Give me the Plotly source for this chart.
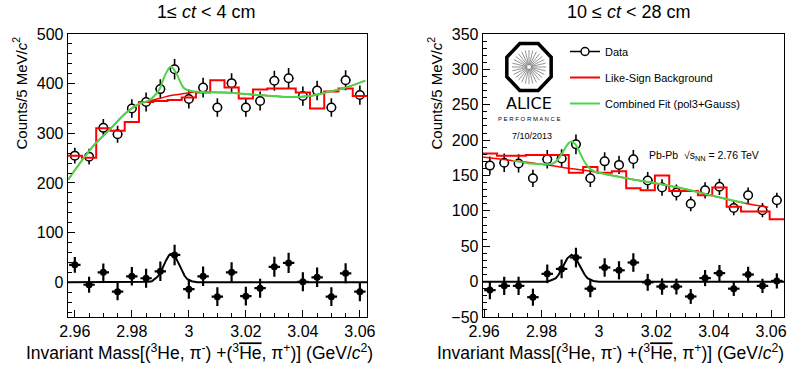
import math
import plotly.graph_objects as go

W, H = 787, 367

# ---------------- data ----------------
bin_width = 0.005

# left panel: 1 <= ct < 4 cm
mass_left = [2.960, 2.965, 2.970, 2.975, 2.980, 2.985, 2.990, 2.995, 3.000, 3.005,
             3.010, 3.015, 3.020, 3.025, 3.030, 3.035, 3.040, 3.045, 3.050, 3.055, 3.060]
data_left = [255, 253, 311, 298, 350, 363, 389, 429, 369, 392,
             352, 401, 352, 365, 406, 411, 375, 386, 352, 407, 377]
bkg_hist_left = [255, 251, 310, 305, 323, 363, 365, 367, 372, 382,
                 407, 392, 370, 388, 390, 390, 382, 350, 384, 390, 375]
sub_left = [35, -5, 20, -19, 12, 8, 22, 55, -14, 12,
            -29, 20, -28, -12, 31, 39, 1, 10, -29, 18, -19]

fit_x_left = [2.9577, 2.9664, 2.9723, 2.9781, 2.9828, 2.986, 2.9896, 2.9915, 2.9936,
              2.9955, 2.9972, 2.9985, 3.002, 3.0128, 3.0246, 3.0362, 3.0422, 3.048, 3.055, 3.0619]
fit_y_left = [207, 274, 308, 342, 360, 366, 388, 415, 434,
              422, 401, 390, 384, 382, 377, 373, 375, 382, 392, 406]
bkgfit_x_left = [2.9577, 2.9664, 2.9723, 2.9781, 2.9828, 2.9896, 2.9936, 2.9985, 3.002,
                 3.0128, 3.0246, 3.0362, 3.0422, 3.048, 3.055, 3.0619]
bkgfit_y_left = [207, 274, 308, 342, 360, 370, 376, 380, 383,
                 382, 377, 373, 375, 382, 392, 406]
gaus_x_left = [2.9575, 2.984, 2.986, 2.987, 2.988, 2.989, 2.990, 2.991, 2.992, 2.993, 2.9937,
               2.9945, 2.9955, 2.9965, 2.9975, 2.9985, 2.9995, 3.001, 3.003, 3.0625]
gaus_y_left = [0, 0, 1, 2, 6, 11, 19, 33, 44, 54, 57,
               55, 48, 37, 24, 13, 6, 2, 0, 0]

# right panel: 10 <= ct < 28 cm
mass_right = [2.962, 2.967, 2.972, 2.977, 2.982, 2.987, 2.992, 2.997, 3.002, 3.007,
              3.012, 3.017, 3.022, 3.027, 3.032, 3.037, 3.042, 3.047, 3.052, 3.057, 3.062]
data_right = [164, 168, 167, 146, 173, 174, 194, 146, 170, 165,
              173, 143, 133, 126, 110, 129, 134, 104, 122, 101, 115]
bkg_hist_right = [181, 178, 178, 179, 179, 179, 154, 162, 154, 156,
                  132, 129, 150, 128, 128, 122, 133, 106, 99, 99, 88]
sub_right = [-12, -6, -6, -22, 11, 18, 34, -10, 20, 16,
             27, -1, -7, -7, -21, 5, 12, -10, 10, -6, 1]

fit_x_right = [2.970, 2.976, 2.981, 2.984, 2.986, 2.988, 2.9895, 2.9905, 2.9918, 2.9935,
               2.995, 2.997, 2.999, 3.002, 3.011, 3.020, 3.030, 3.040, 3.051]
fit_y_right = [171, 167, 166, 167, 174, 187, 196, 198, 194, 181,
               169, 159, 155, 152, 145, 139, 131, 121, 111]
bkgfit_x_right = [2.9595, 2.970, 2.980, 2.990, 3.000, 3.011, 3.017, 3.030, 3.040, 3.047, 3.059]
bkgfit_y_right = [176, 171, 166, 160, 154, 145, 141, 131, 121, 114, 105]
gaus_x_right = [2.9595, 2.982, 2.984, 2.985, 2.986, 2.987, 2.988, 2.989, 2.9905, 2.992,
                2.993, 2.994, 2.995, 2.996, 2.997, 2.998, 3.000, 3.0645]
gaus_y_right = [0, 0, 3, 5, 10, 17, 25, 33, 38, 33,
                25, 17, 10, 5, 3, 1, 0, 0]

x_tickvals = [2.96, 2.98, 3.00, 3.02, 3.04, 3.06]
x_ticktext = ["2.96", "2.98", "3", "3.02", "3.04", "3.06"]
y_tickvals_left = [0, 100, 200, 300, 400, 500]
y_tickvals_right = [-50, 0, 50, 100, 150, 200, 250, 300, 350]

titles = ["1\u2264 <i>ct</i> < 4 cm", "10 \u2264 <i>ct</i> < 28 cm"]
legend_names = ["Data", "Like-Sign Background", "Combined Fit (pol3+Gauss)"]

# ---------------- styling ----------------
FONT = "Liberation Sans, Arial, Helvetica, sans-serif"
RED = "#ff0000"
GREEN = "#4cd44c"


def fx(p):
    return p / W


def fy(p):
    return 1 - p / H


def sqrt_err(vals):
    return [math.sqrt(abs(v)) if v != 0 else 1 for v in vals]


fig = go.Figure()


def add_panel(xa, ya, centers, data, hist, sub, fx_, fy_, bx_, by_, gx_, gy_, err_ref):
    # data points (open circles)
    fig.add_trace(go.Scatter(
        x=centers, y=data, mode="markers", xaxis=xa, yaxis=ya, showlegend=False,
        marker=dict(symbol="circle", size=8.5, color="white", line=dict(color="black", width=1.5)),
        error_y=dict(type="data", array=sqrt_err(data), color="black", thickness=1.6, width=0),
        error_x=dict(type="constant", value=0.0017, color="black", thickness=1.6, width=0),
    ))
    # like-sign background histogram
    edges = [c - bin_width / 2 for c in centers] + [centers[-1] + bin_width / 2]
    fig.add_trace(go.Scatter(
        x=edges, y=list(hist) + [hist[-1]], mode="lines", line_shape="hv",
        line=dict(color=RED, width=2), xaxis=xa, yaxis=ya, showlegend=False,
    ))
    # background component of fit
    fig.add_trace(go.Scatter(
        x=bx_, y=by_, mode="lines", line_shape="spline",
        line=dict(color=RED, width=1.5), xaxis=xa, yaxis=ya, showlegend=False,
    ))
    # combined fit
    fig.add_trace(go.Scatter(
        x=fx_, y=fy_, mode="lines", line_shape="spline",
        line=dict(color=GREEN, width=2), xaxis=xa, yaxis=ya, showlegend=False,
    ))
    # subtracted gaussian
    fig.add_trace(go.Scatter(
        x=gx_, y=gy_, mode="lines",
        line=dict(color="black", width=2), xaxis=xa, yaxis=ya, showlegend=False,
    ))
    # subtracted points
    fig.add_trace(go.Scatter(
        x=centers, y=sub, mode="markers", xaxis=xa, yaxis=ya, showlegend=False,
        marker=dict(symbol="circle", size=7, color="black"),
        error_y=dict(type="data", array=sqrt_err(err_ref), color="black", thickness=2.2, width=0),
        error_x=dict(type="constant", value=0.002, color="black", thickness=2.2, width=0),
    ))


add_panel("x", "y", mass_left, data_left, bkg_hist_left, sub_left,
          fit_x_left, fit_y_left, bkgfit_x_left, bkgfit_y_left, gaus_x_left, gaus_y_left, data_left)
add_panel("x2", "y2", mass_right, data_right, bkg_hist_right, sub_right,
          fit_x_right, fit_y_right, bkgfit_x_right, bkgfit_y_right, gaus_x_right, gaus_y_right, data_right)

# legend-only entries
fig.add_trace(go.Scatter(
    x=[None], y=[None], mode="lines+markers", name=legend_names[0], legendgroup="a",
    marker=dict(symbol="circle", size=8, color="white", line=dict(color="black", width=1.5)),
    line=dict(color="black", width=1.5), xaxis="x2", yaxis="y2"))
fig.add_trace(go.Scatter(
    x=[None], y=[None], mode="lines", name=legend_names[1], legendgroup="b",
    line=dict(color=RED, width=2), xaxis="x2", yaxis="y2"))
fig.add_trace(go.Scatter(
    x=[None], y=[None], mode="lines", name=legend_names[2], legendgroup="c",
    line=dict(color=GREEN, width=2), xaxis="x2", yaxis="y2"))

TOP, BOT = 34, 317
common_x = dict(
    showline=True, linecolor="black", linewidth=1, mirror=True, showgrid=False, zeroline=False,
    ticks="inside", ticklen=7, tickwidth=1, tickcolor="black",
    tickvals=x_tickvals, ticktext=x_ticktext,
    minor=dict(ticks="inside", ticklen=4, tickwidth=1, tickcolor="black", dtick=0.005, tick0=2.96),
    tickfont=dict(family=FONT, size=16, color="black"), automargin=False,
)
common_y = dict(
    showline=True, linecolor="black", linewidth=1, mirror=True, showgrid=False, zeroline=False,
    ticks="inside", ticklen=7, tickwidth=1, tickcolor="black",
    tickfont=dict(family=FONT, size=16, color="black"), automargin=False,
    domain=[fy(BOT), fy(TOP)],
)

fig.update_layout(
    width=W, height=H, autosize=False,
    margin=dict(l=0, r=0, t=0, b=0, pad=0, autoexpand=False),
    paper_bgcolor="white", plot_bgcolor="white",
    font=dict(family=FONT, color="black"),
    xaxis=dict(common_x, domain=[fx(67.7), fx(367)], range=[2.9575, 3.0625], anchor="y"),
    yaxis=dict(common_y, range=[-70, 500], tickvals=y_tickvals_left, anchor="x",
               minor=dict(ticks="inside", ticklen=4, tickwidth=1, tickcolor="black", dtick=20, tick0=0)),
    xaxis2=dict(common_x, domain=[fx(482.7), fx(784)], range=[2.9595, 3.0645], anchor="y2"),
    yaxis2=dict(common_y, range=[-50, 350], tickvals=y_tickvals_right, anchor="x2",
                minor=dict(ticks="inside", ticklen=4, tickwidth=1, tickcolor="black", dtick=10, tick0=0)),
    legend=dict(x=fx(565), y=fy(37), xanchor="left", yanchor="top", bgcolor="rgba(0,0,0,0)",
                font=dict(family=FONT, size=11, color="black"), itemwidth=30,
                tracegroupgap=7, traceorder="grouped"),
)


def text_ann(xp, yp, text, size, xanchor="center", yanchor="middle", **kw):
    d = dict(x=fx(xp), y=fy(yp), text=text, showarrow=False, xref="paper", yref="paper",
             xanchor=xanchor, yanchor=yanchor, font=dict(size=size, **kw.pop("font", {})))
    d.update(kw)
    return d


ann = []
# panel titles
ann.append(text_ann(206, 12, titles[0], 18))
ann.append(text_ann(628, 12, titles[1], 18))
# y titles
ytitle = "Counts/5 MeV/<i>c</i><sup>2</sup>"
for xp in (20, 435):
    ann.append(text_ann(xp, 35, ytitle, 15, yanchor="top", textangle=-90))
# x titles
xtitle = ("Invariant Mass[(<sup>3</sup>He, \u03c0<sup>-</sup>) +(<sup>3</sup>"
          "<span style='text-decoration:overline'>He</span>, \u03c0<sup>+</sup>)] (GeV/<i>c</i><sup>2</sup>)")
for xp in (375, 786):
    ann.append(text_ann(xp, 352, xtitle, 17.5, xanchor="right"))
# ALICE label texts
ann.append(text_ann(529, 104, "ALICE", 16, font=dict(family="DejaVu Sans")))
ann.append(text_ann(529, 119, "P E R F O R M A N C E", 6))
ann.append(text_ann(532, 136, "7/10/2013", 9))
ann.append(text_ann(647, 156, "Pb-Pb  \u221as<sub>NN</sub> = 2.76 TeV", 10.5, xanchor="left"))
fig.update_layout(annotations=ann)

# ALICE logo (decoration): octagon with spokes
cx, cy, rx, ry = 529, 67, 24, 25.5
pts = []
for k in range(8):
    a = math.radians(22.5 + 45 * k)
    pts.append((fx(cx + rx * math.cos(a)), fy(cy + ry * math.sin(a))))
path = "M " + " L ".join(f"{x:.5f},{y:.5f}" for x, y in pts) + " Z"
spokes = []
for k in range(28):
    a = math.radians(360 / 28 * k)
    x0, y0 = fx(cx + 2 * math.cos(a)), fy(cy + 2 * math.sin(a))
    x1, y1 = fx(cx + 17 * math.cos(a)), fy(cy + 17 * math.sin(a))
    spokes.append(f"M {x0:.5f},{y0:.5f} L {x1:.5f},{y1:.5f}")
fig.add_shape(type="path", path=" ".join(spokes), xref="paper", yref="paper",
              line=dict(color="#777777", width=0.8))
fig.add_shape(type="path", path=path, xref="paper", yref="paper",
              line=dict(color="black", width=3.5))

fig.write_html("out.html", config={"displayModeBar": False},
               post_script="document.body.style.margin='0';document.body.style.padding='0';")
